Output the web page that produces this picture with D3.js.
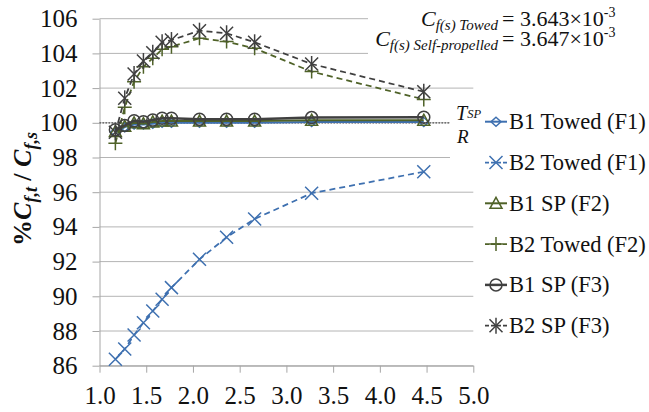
<!DOCTYPE html>
<html>
<head>
<meta charset="utf-8">
<script src="https://cdn.jsdelivr.net/npm/d3@7"></script>
<style>
  body { margin: 0; background: #fff; }
  svg, svg text { font-family: "Liberation Serif", "DejaVu Serif", "Times New Roman", Times, serif; }
</style>
</head>
<body>
<div id="container"></div>
<script>
// data
const froude = [1.17, 1.27, 1.37, 1.47, 1.57, 1.67, 1.77, 2.07, 2.36, 2.66, 3.27, 4.47];
const b1TowedF1 = [99.45, 99.75, 99.9, 99.9, 99.95, 100.0, 100.0, 100.0, 100.0, 100.0, 100.05, 100.05];
const b2TowedF1 = [86.37, 86.96, 87.77, 88.48, 89.15, 89.83, 90.5, 92.13, 93.4, 94.46, 95.94, 97.18];
const b1SpF2 = [99.5, 99.8, 100.0, 99.95, 100.05, 100.1, 100.1, 100.1, 100.1, 100.1, 100.15, 100.15];
const b2TowedF2 = [98.82, 100.89, 102.37, 103.23, 103.72, 104.24, 104.39, 104.87, 104.68, 104.29, 102.95, 101.35];
const b1SpF3 = [99.6, 99.85, 100.12, 100.06, 100.16, 100.26, 100.26, 100.2, 100.2, 100.2, 100.3, 100.32];
const b2SpF3 = [99.45, 101.41, 102.81, 103.56, 104.04, 104.64, 104.77, 105.31, 105.16, 104.64, 103.39, 101.79];

const xTicks = [1.0, 1.5, 2.0, 2.5, 3.0, 3.5, 4.0, 4.5, 5.0];
const yTicks = [86, 88, 90, 92, 94, 96, 98, 100, 102, 104, 106];

const serif = "Liberation Serif, DejaVu Serif, serif";
const blue = "#3e70b0", green = "#4f6228", grey = "#404040";

const series = [
  {name: "B1 Towed (F1)", values: b1TowedF1, color: blue, marker: "diamond", dash: null, width: 2},
  {name: "B2 Towed (F1)", values: b2TowedF1, color: blue, marker: "x", dash: "6,4", width: 1.75},
  {name: "B1 SP (F2)", values: b1SpF2, color: green, marker: "triangle", dash: null, width: 2},
  {name: "B2 Towed (F2)", values: b2TowedF2, color: green, marker: "plus", dash: "6,4", width: 1.75},
  {name: "B1 SP (F3)", values: b1SpF3, color: grey, marker: "circle", dash: null, width: 2.5},
  {name: "B2 SP (F3)", values: b2SpF3, color: grey, marker: "star", dash: "6,4", width: 1.75}
];

const w = 649, h = 412;
const svg = d3.select("#container").append("svg").attr("width", w).attr("height", h)
  .attr("font-family", serif);

const xScale = d3.scaleLinear().domain([1, 5]).range([99.5, 473.3]);
const yScale = d3.scaleLinear().domain([86, 106]).range([365.7, 18.7]);

// gridlines
svg.append("g").selectAll("line").data(yTicks).join("line")
  .attr("x1", xScale(1)).attr("x2", xScale(5))
  .attr("y1", d => yScale(d)).attr("y2", d => yScale(d))
  .attr("stroke", "#b4b4b4").attr("stroke-width", 1);

// axes
const yAxis = d3.axisLeft(yScale).tickValues(yTicks).tickSize(7).tickSizeOuter(0).tickPadding(15);
const yAxisGroup = svg.append("g").attr("transform", `translate(${xScale(1)},0)`).call(yAxis);
const xAxis = d3.axisBottom(xScale).tickValues(xTicks).tickSize(7).tickSizeOuter(0)
  .tickFormat(d3.format(".1f")).tickPadding(8);
const xAxisGroup = svg.append("g").attr("transform", `translate(0,${yScale(86)})`).call(xAxis);
[yAxisGroup, xAxisGroup].forEach(g => {
  g.attr("font-family", serif).attr("font-size", 25);
  g.select(".domain").attr("stroke", "#a6a6a6");
  g.selectAll(".tick line").attr("stroke", "#a6a6a6");
  g.selectAll("text").attr("fill", "#111");
});
xAxisGroup.selectAll("text").attr("dy", "0.95em");

// white boxes behind the labels (they hide the gridlines)
svg.append("rect").attr("x", 368).attr("y", 0).attr("width", 281).attr("height", 60).attr("fill", "#fff");
svg.append("rect").attr("x", 450).attr("y", 95).attr("width", 35).attr("height", 65).attr("fill", "#fff");

// T_SP / R reference line at 100
svg.append("line")
  .attr("x1", xScale(1)).attr("x2", xScale(4.75))
  .attr("y1", yScale(100)).attr("y2", yScale(100))
  .attr("stroke", "#555").attr("stroke-width", 1.2).attr("stroke-dasharray", "1.5,1.5");

function drawMarker(g, type, color) {
  const s = g.append("g").attr("fill", "none").attr("stroke", color).attr("stroke-width", 1.5);
  if (type === "diamond") s.append("path").attr("d", "M0,-4.5L5,0L0,4.5L-5,0Z");
  if (type === "triangle") s.append("path").attr("d", "M0,-6L6,5L-6,5Z");
  if (type === "circle") s.append("circle").attr("r", 6);
  if (type === "x" || type === "star") s.append("path").attr("d", "M-6.5,-6.5L6.5,6.5M-6.5,6.5L6.5,-6.5");
  if (type === "plus") s.append("path").attr("d", "M-7,0L7,0M0,-7L0,7");
  if (type === "star") s.append("path").attr("d", "M0,-8L0,8");
}

const line = d3.line().x(d => xScale(d[0])).y(d => yScale(d[1]));

series.forEach(s => {
  const pts = froude.map((f, i) => [f, s.values[i]]);
  const g = svg.append("g");
  g.append("path").datum(pts).attr("d", line)
    .attr("fill", "none").attr("stroke", s.color).attr("stroke-width", s.width)
    .attr("stroke-dasharray", s.dash);
  pts.forEach(p => {
    drawMarker(g.append("g").attr("transform", `translate(${xScale(p[0])},${yScale(p[1])})`), s.marker, s.color);
  });
});

// legend
const legend = svg.append("g");
series.forEach((s, i) => {
  const cy = 121.7 + i * 40.8;
  const item = legend.append("g").attr("transform", `translate(0,${cy})`);
  item.append("line").attr("x1", 485).attr("x2", 507).attr("y1", 0).attr("y2", 0)
    .attr("stroke", s.color).attr("stroke-width", s.width).attr("stroke-dasharray", s.dash ? "4,2" : null);
  drawMarker(item.append("g").attr("transform", "translate(496,0)"), s.marker, s.color);
  item.append("text").attr("x", 509).attr("y", 7.5).attr("font-size", 22.5).attr("fill", "#111").text(s.name);
});

// Cf annotations
function cfLine(y, sub, val) {
  const left = svg.append("text").attr("x", 498).attr("y", y).attr("text-anchor", "end")
    .attr("font-size", 22).attr("font-style", "italic").attr("fill", "#111");
  left.append("tspan").text("C");
  left.append("tspan").attr("font-size", 15).attr("dy", 4).text(sub);
  const right = svg.append("text").attr("x", 502).attr("y", y).attr("font-size", 22).attr("fill", "#111");
  right.append("tspan").text("= " + val + "×10");
  right.append("tspan").attr("font-size", 14).attr("dy", -9).text("-3");
}
cfLine(26, "f(s) Towed", "3.643");
cfLine(46, "f(s) Self-propelled", "3.647");

// T_SP / R label
const tsp = svg.append("text").attr("x", 456).attr("y", 120).attr("font-size", 20).attr("font-style", "italic").attr("fill", "#111");
tsp.append("tspan").text("T");
tsp.append("tspan").attr("font-size", 12.5).attr("dy", -2).text("SP");
svg.append("text").attr("x", 457).attr("y", 143).attr("font-size", 19).attr("font-style", "italic").attr("fill", "#111").text("R");

// y axis title
const yt = svg.append("text").attr("transform", "translate(31,189) rotate(-90)")
  .attr("text-anchor", "middle").attr("font-weight", "bold").attr("font-size", 26).attr("fill", "#111");
yt.append("tspan").text("%");
yt.append("tspan").attr("font-style", "italic").text("C");
yt.append("tspan").attr("font-style", "italic").attr("font-size", 18).attr("dy", 6).text("f,t");
yt.append("tspan").attr("dy", -6).text(" / ");
yt.append("tspan").attr("font-style", "italic").text("C");
yt.append("tspan").attr("font-style", "italic").attr("font-size", 18).attr("dy", 6).text("f,s");
</script>
</body>
</html>
